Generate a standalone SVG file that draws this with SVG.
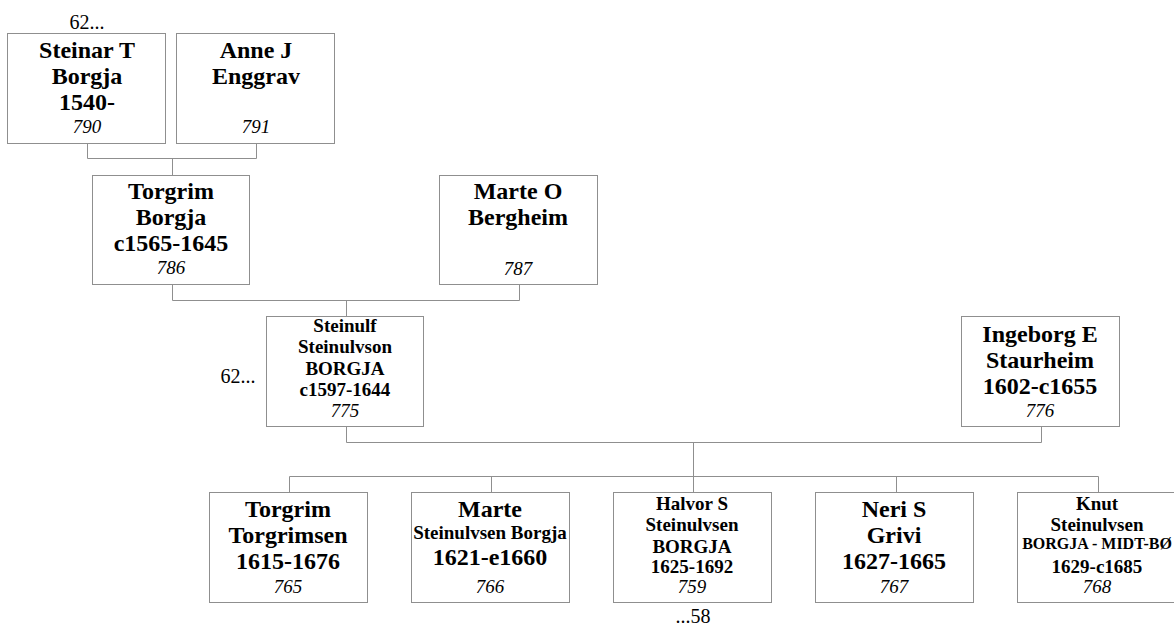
<svg xmlns="http://www.w3.org/2000/svg" width="1174" height="628" viewBox="0 0 1174 628">
<style>
.box{fill:#fff;stroke:#8f8f8f;stroke-width:1}
.ln{fill:none;stroke:#8f8f8f;stroke-width:1}
text{font-family:"Liberation Serif","Times New Roman",serif;fill:#000;text-anchor:middle}
.b{font-weight:bold;font-size:24px}
.s{font-weight:bold;font-size:19px}
.xs{font-weight:bold;font-size:16px}
.n{font-style:italic;font-size:19px}
.r{font-size:20px}
</style>
<rect width="1174" height="628" fill="#fff"/>
<g id="connectors">
<path class="ln" d="M87.5,143.5 V158.5 H256.5 V143.5 M172.5,158.5 V175.5"/>
<path class="ln" d="M172.5,284.5 V300.5 H519.5 V284.5 M346.5,300.5 V316.5"/>
<path class="ln" d="M346.5,426.5 V442.5 H1041.5 V426.5 M693.5,442.5 V476.5"/>
<path class="ln" d="M289.5,476.5 H1098.5 M289.5,476.5 V492.5 M491.5,476.5 V492.5 M693.5,476.5 V492.5 M896.5,476.5 V492.5 M1098.5,476.5 V492.5"/>
</g>
<g id="p790">
<rect class="box" x="7.5" y="33.5" width="158" height="110"/>
<text class="b" x="87" y="58">Steinar T</text>
<text class="b" x="87" y="84">Borgja</text>
<text class="b" x="87" y="110">1540-</text>
<text class="n" x="87" y="133">790</text>
</g>
<g id="p791">
<rect class="box" x="176.5" y="33.5" width="158" height="110"/>
<text class="b" x="256" y="58">Anne J</text>
<text class="b" x="256" y="84">Enggrav</text>
<text class="n" x="256" y="133">791</text>
</g>
<g id="p786">
<rect class="box" x="92.5" y="175.5" width="157" height="109"/>
<text class="b" x="171" y="199">Torgrim</text>
<text class="b" x="171" y="225">Borgja</text>
<text class="b" x="171" y="251">c1565-1645</text>
<text class="n" x="171" y="274">786</text>
</g>
<g id="p787">
<rect class="box" x="439.5" y="175.5" width="158" height="109"/>
<text class="b" x="518" y="199">Marte O</text>
<text class="b" x="518" y="225">Bergheim</text>
<text class="n" x="518" y="275">787</text>
</g>
<g id="p775">
<rect class="box" x="266.5" y="316.5" width="157" height="110"/>
<text class="s" x="345" y="332">Steinulf</text>
<text class="s" x="345" y="353">Steinulvson</text>
<text class="s" x="345" y="375">BORGJA</text>
<text class="s" x="345" y="396">c1597-1644</text>
<text class="n" x="345" y="417">775</text>
</g>
<text class="r" x="238" y="383">62...</text>
<text class="r" x="87" y="29">62...</text>
<g id="p776">
<rect class="box" x="961.5" y="316.5" width="158" height="110"/>
<text class="b" x="1040" y="342">Ingeborg E</text>
<text class="b" x="1040" y="368">Staurheim</text>
<text class="b" x="1040" y="394">1602-c1655</text>
<text class="n" x="1040" y="417">776</text>
</g>
<g id="p765">
<rect class="box" x="209.5" y="492.5" width="158" height="110"/>
<text class="b" x="288" y="517">Torgrim</text>
<text class="b" x="288" y="543">Torgrimsen</text>
<text class="b" x="288" y="569">1615-1676</text>
<text class="n" x="288" y="593">765</text>
</g>
<g id="p766">
<rect class="box" x="411.5" y="492.5" width="158" height="110"/>
<text class="b" x="490" y="517">Marte</text>
<text class="s" x="490" y="539">Steinulvsen Borgja</text>
<text class="b" x="490" y="565">1621-e1660</text>
<text class="n" x="490" y="593">766</text>
</g>
<g id="p759">
<rect class="box" x="613.5" y="492.5" width="158" height="110"/>
<text class="s" x="692" y="510">Halvor S</text>
<text class="s" x="692" y="531">Steinulvsen</text>
<text class="s" x="692" y="553">BORGJA</text>
<text class="s" x="692" y="573">1625-1692</text>
<text class="n" x="692" y="593">759</text>
</g>
<text class="r" x="693" y="623">...58</text>
<g id="p767">
<rect class="box" x="815.5" y="492.5" width="158" height="110"/>
<text class="b" x="894" y="517">Neri S</text>
<text class="b" x="894" y="543">Grivi</text>
<text class="b" x="894" y="569">1627-1665</text>
<text class="n" x="894" y="593">767</text>
</g>
<g id="p768">
<rect class="box" x="1017.5" y="492.5" width="158" height="110"/>
<text class="s" x="1097" y="510">Knut</text>
<text class="s" x="1097" y="531">Steinulvsen</text>
<text class="xs" x="1097" y="549">BORGJA - MIDT-BØ</text>
<text class="s" x="1097" y="573">1629-c1685</text>
<text class="n" x="1097" y="593">768</text>
</g>
</svg>
